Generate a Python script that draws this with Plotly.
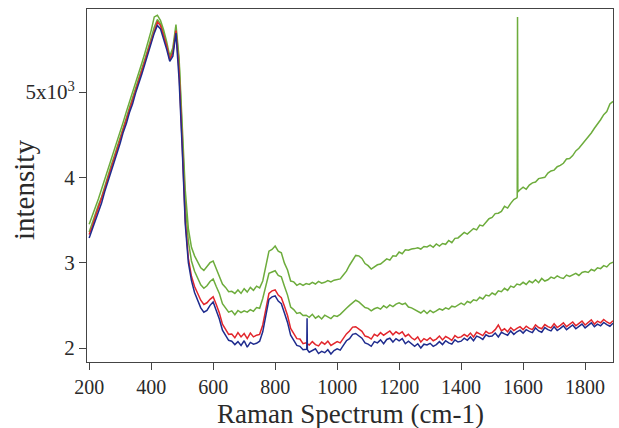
import plotly.graph_objects as go

wavenumber = list(range(200, 1900, 10))

blue = [
    3290, 3390, 3490, 3610, 3700, 3830, 3940, 4060, 4170, 4290,
    4400, 4530, 4630, 4760, 4860, 4990, 5090, 5210, 5330, 5440,
    5570, 5690, 5780, 5740, 5630, 5500, 5360, 5420, 5690, 5150,
    4350, 3450, 3000, 2790, 2650, 2560, 2470, 2420, 2440, 2500,
    2540, 2440, 2340, 2210, 2150, 2090, 2080, 2040, 2075, 2030,
    2085, 2010, 2065, 2045, 2055, 2080, 2190, 2390, 2570, 2600,
    2610, 2550, 2520, 2410, 2300, 2150, 2090, 2030, 2020, 1980,
    1985, 1950, 1975, 1990, 1935, 1960, 1945, 1980, 1930, 1970,
    1990, 1975, 2030, 2085, 2110, 2160, 2170, 2140, 2115, 2060,
    2045, 2020, 2075, 2060, 2095, 2050, 2100, 2115, 2070, 2110,
    2085, 2110, 2050, 2080, 2055, 2020, 2050, 2000, 2045, 2035,
    2055, 2020, 2040, 2075, 2040, 2085, 2060, 2045, 2095, 2070,
    2080, 2115, 2090, 2130, 2085, 2140, 2125, 2100, 2155, 2135,
    2140, 2175, 2130, 2185, 2165, 2150, 2200, 2160, 2190, 2210,
    2175, 2215, 2195, 2180, 2235, 2200, 2185, 2240, 2215, 2200,
    2250, 2205, 2230, 2260, 2215, 2245, 2270, 2225, 2255, 2280,
    2235, 2270, 2295, 2250, 2280, 2260, 2300, 2275, 2255, 2290,
]

red = [
    3330, 3420, 3540, 3640, 3750, 3860, 3980, 4090, 4210, 4320,
    4440, 4560, 4670, 4790, 4900, 5020, 5130, 5250, 5360, 5480,
    5600, 5720, 5820, 5780, 5670, 5540, 5380, 5460, 5720, 5250,
    4400, 3500, 3050, 2840, 2720, 2630, 2560, 2510, 2530, 2570,
    2600, 2510, 2410, 2280, 2220, 2160, 2165, 2120, 2180, 2130,
    2170, 2110, 2175, 2130, 2150, 2160, 2270, 2470, 2640, 2670,
    2680, 2620, 2590, 2490, 2380, 2230, 2175, 2110, 2105, 2050,
    2060, 2035, 2075, 2040, 2025, 2070, 2045, 2080, 2030, 2055,
    2075, 2060, 2110, 2165, 2200, 2245, 2250, 2225, 2195, 2140,
    2130, 2105, 2160, 2140, 2180, 2150, 2175, 2200, 2155, 2190,
    2165, 2190, 2135, 2160, 2120, 2095, 2130, 2070, 2110, 2090,
    2120, 2085, 2105, 2140, 2095, 2135, 2115, 2090, 2145, 2120,
    2130, 2160, 2135, 2175, 2130, 2185, 2165, 2145, 2195, 2170,
    2180, 2215, 2270, 2200, 2225, 2190, 2240, 2205, 2230, 2250,
    2215, 2255, 2230, 2215, 2270, 2240, 2225, 2275, 2250, 2235,
    2285, 2240, 2265, 2295, 2250, 2280, 2305, 2260, 2290, 2315,
    2270, 2305, 2330, 2280, 2315, 2295, 2335, 2305, 2285, 2320,
]

green_low = [
    3360, 3470, 3560, 3680, 3770, 3900, 4010, 4130, 4240, 4350,
    4470, 4590, 4700, 4820, 4930, 5050, 5160, 5280, 5390, 5510,
    5640, 5760, 5850, 5800, 5690, 5560, 5400, 5480, 5740, 5350,
    4550, 3700, 3250, 3020, 2900, 2810, 2740, 2700, 2730, 2780,
    2810, 2720, 2640, 2520, 2470, 2420, 2435, 2390, 2440, 2415,
    2435, 2420, 2450, 2430, 2475, 2465, 2580, 2740, 2875, 2890,
    2905, 2850, 2835, 2725, 2620, 2480, 2450, 2405, 2415, 2380,
    2385, 2360, 2395, 2350, 2375, 2340, 2385, 2365, 2345, 2380,
    2370, 2395, 2425, 2465, 2500, 2525, 2560, 2540, 2505, 2475,
    2465, 2435, 2460, 2475, 2455, 2495, 2470, 2505, 2485, 2515,
    2530, 2510, 2525, 2480, 2470, 2450, 2435, 2410, 2440, 2405,
    2440, 2415, 2435, 2460, 2445, 2470, 2455, 2490, 2480, 2500,
    2525, 2505, 2545, 2530, 2565, 2555, 2595, 2575, 2620, 2610,
    2645, 2625, 2670, 2660, 2700, 2675, 2725, 2710, 2750, 2740,
    2770, 2745, 2785, 2765, 2800, 2765, 2815, 2785, 2800, 2830,
    2815, 2845, 2825, 2815, 2855, 2840, 2860, 2875, 2850, 2885,
    2895, 2885, 2920, 2905, 2940, 2930, 2965, 2950, 2990, 3005,
]

green_high = [
    3450, 3540, 3650, 3750, 3860, 3970, 4090, 4190, 4310, 4420,
    4540, 4650, 4770, 4880, 5000, 5110, 5230, 5340, 5460, 5580,
    5720, 5880, 5900, 5840, 5730, 5590, 5420, 5520, 5790, 5400,
    4650, 3850, 3400, 3180, 3080, 3000, 2940, 2910, 2950, 3000,
    3020, 2930, 2850, 2750, 2710, 2660, 2665, 2640, 2680, 2640,
    2695, 2655, 2710, 2675, 2725, 2705, 2785, 2965, 3135, 3155,
    3195, 3135, 3115, 2995, 2915, 2785, 2775, 2735, 2755, 2735,
    2755, 2745, 2770, 2750, 2780, 2760, 2770, 2790, 2775, 2795,
    2800, 2810, 2855, 2900, 2970, 3030, 3085, 3080, 3050, 2990,
    2965, 2925, 2955, 2975, 2985, 3010, 3045, 3030, 3080, 3075,
    3125, 3105, 3150, 3145, 3160, 3165, 3175, 3160, 3190, 3185,
    3205, 3180, 3220, 3195, 3225, 3215, 3260, 3235, 3285, 3290,
    3320, 3355, 3335, 3370, 3400, 3385, 3440, 3430, 3470, 3515,
    3530, 3575, 3580, 3600, 3660, 3640, 3695, 3740, 3760, 3855,
    3885, 3860, 3910, 3935, 3945, 3985, 3990, 4000, 4050, 4075,
    4085, 4125, 4140, 4165, 4215, 4220, 4255, 4310, 4340, 4385,
    4420, 4475, 4520, 4575, 4620, 4675, 4735, 4770, 4860, 4890,
]

# narrow spikes
blue_spike_x = [902, 903, 904]
blue_spike_y = [1985, 2350, 1980]
green_spike_x = [1581, 1582, 1583]
green_spike_y = [3770, 5880, 3830]

x_ticks = [200, 400, 600, 800, 1000, 1200, 1400, 1600, 1800]
y_ticks = [2000, 3000, 4000, 5000]
y_tick_text = ["2", "3", "4", "5x10<sup>3</sup>"]


def merged(xs, ys, sx, sy):
    pts = sorted(list(zip(xs, ys)) + list(zip(sx, sy)))
    return [p[0] for p in pts], [p[1] for p in pts]


gx, gy = merged(wavenumber, green_high, green_spike_x, green_spike_y)
bx, by = merged(wavenumber, blue, blue_spike_x, blue_spike_y)

fig = go.Figure()
lw = 1.5
fig.add_trace(go.Scatter(x=gx, y=gy, mode="lines", line=dict(color="#6dac3c", width=lw)))
fig.add_trace(go.Scatter(x=wavenumber, y=green_low, mode="lines", line=dict(color="#6dac3c", width=lw)))
fig.add_trace(go.Scatter(x=wavenumber, y=red, mode="lines", line=dict(color="#e2262c", width=lw)))
fig.add_trace(go.Scatter(x=bx, y=by, mode="lines", line=dict(color="#1f2c8e", width=lw)))

serif = "Liberation Serif, Times New Roman, serif"
W, H = 619, 428
ML, MR, MT, MB = 87, 6, 9, 66
plot_w = W - ML - MR
plot_h = H - MT - MB

fig.update_layout(
    width=W, height=H,
    margin=dict(l=ML, r=MR, t=MT, b=MB),
    paper_bgcolor="white", plot_bgcolor="white",
    showlegend=False,
    font=dict(family=serif, color="#2a2a2a"),
    xaxis=dict(
        range=[193, 1890], tickvals=x_ticks, ticks="outside", ticklen=7,
        tickcolor="#444", showline=True, linecolor="#444", linewidth=1,
        mirror=True, showgrid=False, zeroline=False, automargin=False,
        tickfont=dict(size=20, family=serif),
    ),
    yaxis=dict(
        range=[1836, 5973], tickvals=y_ticks, ticktext=y_tick_text, ticks="outside",
        ticklen=7, tickcolor="#444", showline=True, linecolor="#444", linewidth=1,
        mirror=True, showgrid=False, zeroline=False, automargin=False,
        tickfont=dict(size=21, family=serif),
    ),
    annotations=[
        dict(
            text="intensity", textangle=-90, showarrow=False,
            xref="paper", yref="paper",
            x=(24 - ML) / plot_w, y=(H - MB - 190) / plot_h,
            xanchor="center", yanchor="middle",
            font=dict(size=29, family=serif, color="#2a2a2a"),
        ),
        dict(
            text="Raman Spectrum (cm-1)", showarrow=False,
            xref="paper", yref="paper",
            x=0.5, y=(H - MB - 397) / plot_h,
            xanchor="center", yanchor="top",
            font=dict(size=27, family=serif, color="#2a2a2a"),
        ),
    ],
)

fig.write_html("out.html")
